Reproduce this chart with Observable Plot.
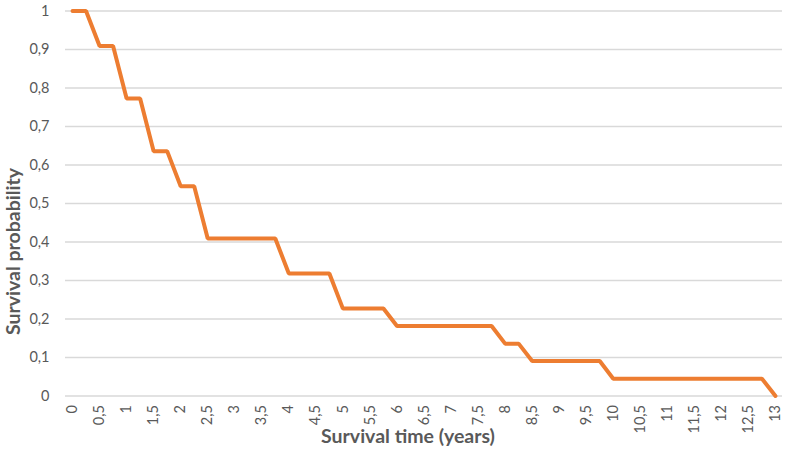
<!DOCTYPE html>
<html><head><meta charset="utf-8">
<script src="https://cdn.jsdelivr.net/npm/d3@7"></script>
<script src="https://cdn.jsdelivr.net/npm/@observablehq/plot@0.6"></script>
<style>
body{margin:0;background:#fff;}
g[aria-label$="tick label"], g[aria-label$="tick label"] text { font-size: 14.5px; }
</style>
</head><body><div id="chart"></div>
<script>
// Kaplan–Meier style survival curve
const times = [0, 0.25, 0.5, 0.75, 1, 1.25, 1.5, 1.75, 2, 2.25, 2.5, 3.75, 4, 4.75, 5, 5.75, 6, 7.75, 8, 8.25, 8.5, 9.75, 10, 12.75, 13];
const survival = [1, 1, 0.909, 0.909, 0.773, 0.773, 0.636, 0.636, 0.545, 0.545, 0.409, 0.409, 0.318, 0.318, 0.227, 0.227, 0.182, 0.182, 0.136, 0.136, 0.091, 0.091, 0.045, 0.045, 0];
const xTicks = [0, 0.5, 1, 1.5, 2, 2.5, 3, 3.5, 4, 4.5, 5, 5.5, 6, 6.5, 7, 7.5, 8, 8.5, 9, 9.5, 10, 10.5, 11, 11.5, 12, 12.5, 13];
const yTicks = [0, 0.1, 0.2, 0.3, 0.4, 0.5, 0.6, 0.7, 0.8, 0.9, 1];
const xTitle = "Survival time (years)";
const yTitle = "Survival probability";

const data = times.map((t, i) => ({t, s: survival[i]}));
const fmt = d => String(d).replace(".", ",");

const chart = Plot.plot({
  width: 788, height: 453,
  marginLeft: 65, marginRight: 6, marginTop: 10.5, marginBottom: 57.5,
  style: {fontFamily: "Lato, 'Open Sans', sans-serif", fontSize: "14.5px", color: "#595959", background: "#fff", overflow: "visible"},
  x: {domain: [-0.13, 13.13]},
  y: {domain: [0, 1]},
  marks: [
    Plot.ruleY(yTicks, {stroke: "#d9d9d9", strokeWidth: 1.3}),
    Plot.line(data, {x: "t", y: "s", stroke: "#ED7D31", strokeWidth: 4, strokeLinejoin: "miter"}),
    Plot.axisX(xTicks, {tickFormat: fmt, tickRotate: -90, tickSize: 0, tickPadding: 9, label: null, fill: "#595959"}),
    Plot.axisY(yTicks, {tickFormat: fmt, tickSize: 0, tickPadding: 16, label: null, fill: "#595959"}),
    Plot.text([xTitle], {frameAnchor: "bottom", textAnchor: "middle", dx: -16, dy: 47, fontWeight: "bold", fontSize: 19.5, fill: "#595959"}),
    Plot.text([yTitle], {frameAnchor: "left", textAnchor: "middle", rotate: -90, dx: -52, dy: 48, fontWeight: "bold", fontSize: 19.5, fill: "#595959"})
  ]
});
document.getElementById("chart").appendChild(chart);
</script>
</body></html>
